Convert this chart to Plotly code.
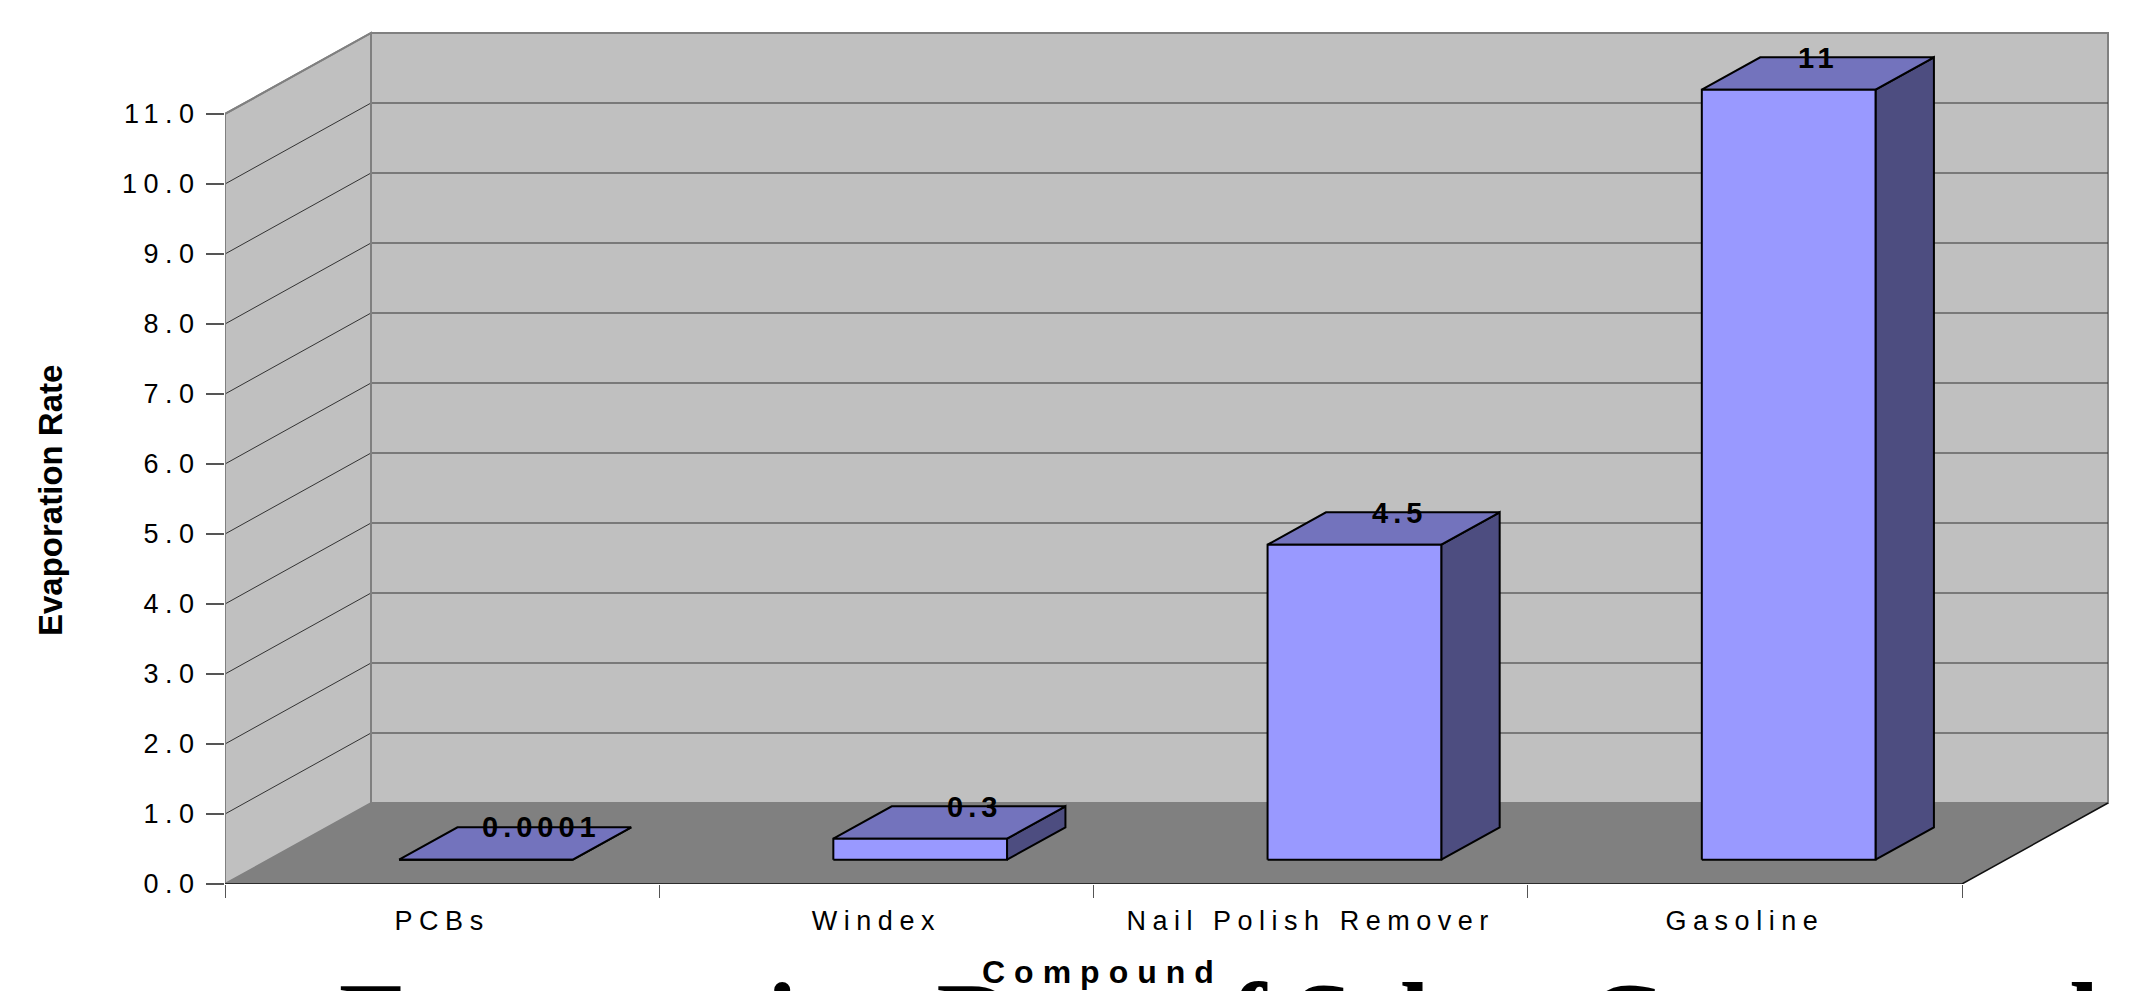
import plotly.graph_objects as go

# ---------------- data ----------------
categories = ["PCBs", "Windex", "Nail Polish Remover", "Gasoline"]
values = [0.0001, 0.3, 4.5, 11]
value_labels = ["0.0001", "0.3", "4.5", "11"]
y_tick_values = [0, 1, 2, 3, 4, 5, 6, 7, 8, 9, 10, 11]
y_tick_labels = ["0.0", "1.0", "2.0", "3.0", "4.0", "5.0", "6.0",
                 "7.0", "8.0", "9.0", "10.0", "11.0"]
x_title = "Compound"
y_title = "Evaporation Rate"
chart_title = "Evaporation Rate of Select Compounds"

# ---------------- layout geometry ----------------
W, H = 2134, 991
ML, MB = 225, 107
plot_w = W - ML
plot_h = H - MB
PX_PER_CAT = 434.25
PX_PER_UNIT = 70.0
x_max = plot_w / PX_PER_CAT
y_max = plot_h / PX_PER_UNIT
DEPTH_X = 146 / PX_PER_CAT
DEPTH_Y = 81 / PX_PER_UNIT
BAR_W = 0.4
D0, D1 = 0.3, 0.7
VMAX = max(y_tick_values)
n = len(categories)

WALL = "#C0C0C0"
FLOOR = "#808080"
EDGE = "#808080"
GRID = "#333333"
FRONT = "#9999FF"
TOP = "#7373BD"
SIDE = "#4D4D80"


def P(x, y, d):
    return x + d * DEPTH_X, y + d * DEPTH_Y


def path(pts, close=True):
    s = "M " + " L ".join(f"{x:.5f},{y:.5f}" for x, y in pts)
    return s + (" Z" if close else "")


def sp(t, ls):
    return f'<span style="letter-spacing:{ls}px">{t}</span>'


shapes = []
# back wall
shapes.append(dict(type="path", xref="x", yref="y", layer="below",
                   path=path([P(0, 0, 1), P(n, 0, 1), P(n, VMAX, 1), P(0, VMAX, 1)]),
                   fillcolor=WALL, line=dict(color=EDGE, width=2)))
# side wall
shapes.append(dict(type="path", xref="x", yref="y", layer="below",
                   path=path([P(0, 0, 0), P(0, VMAX, 0), P(0, VMAX, 1), P(0, 0, 1)]),
                   fillcolor=WALL, line=dict(color=EDGE, width=2)))
# floor
shapes.append(dict(type="path", xref="x", yref="y", layer="below",
                   path=path([P(0, 0, 0), P(n, 0, 0), P(n, 0, 1), P(0, 0, 1)]),
                   fillcolor=FLOOR, line=dict(width=0)))
# gridlines
for v in y_tick_values:
    if v == 0 or v == VMAX:
        continue
    shapes.append(dict(type="path", xref="x", yref="y", layer="below",
                       path=path([P(0, v, 0), P(0, v, 1), P(n, v, 1)], close=False),
                       line=dict(color=GRID, width=1)))
# edges
shapes.append(dict(type="path", xref="x", yref="y", layer="below",
                   path=path([P(0, 0, 0), P(0, VMAX, 0), P(0, VMAX, 1)], close=False),
                   line=dict(color=EDGE, width=2)))
shapes.append(dict(type="path", xref="x", yref="y", layer="below",
                   path=path([P(0, 0, 1), P(0, VMAX, 1)], close=False),
                   line=dict(color=EDGE, width=2)))
shapes.append(dict(type="path", xref="x", yref="y", layer="below",
                   path=path([P(0, 0, 0), P(n, 0, 0), P(n, 0, 1)], close=False),
                   line=dict(color="#111111", width=1.5)))

fig = go.Figure()


def face(pts, color):
    xs = [p[0] for p in pts] + [pts[0][0]]
    ys = [p[1] for p in pts] + [pts[0][1]]
    fig.add_trace(go.Scatter(x=xs, y=ys, mode="lines", fill="toself",
                             fillcolor=color, line=dict(color="black", width=2),
                             hoverinfo="skip", showlegend=False))


annotations = []
for i, v in enumerate(values):
    x0 = i + 0.5 - BAR_W / 2
    x1 = x0 + BAR_W
    face([P(x1, 0, D0), P(x1, 0, D1), P(x1, v, D1), P(x1, v, D0)], SIDE)
    face([P(x0, v, D0), P(x1, v, D0), P(x1, v, D1), P(x0, v, D1)], TOP)
    face([P(x0, 0, D0), P(x1, 0, D0), P(x1, v, D0), P(x0, v, D0)], FRONT)
    cx, cy = P(i + 0.5, v, 0.5)
    annotations.append(dict(x=cx, y=cy, xref="x", yref="y", showarrow=False,
                            text="<b>" + sp(value_labels[i], 5) + "</b>",
                            font=dict(family="Liberation Sans", size=29, color="black"),
                            xanchor="center", yanchor="middle", yshift=16,
                            xshift=26 - 2.3 * v))

# axis titles and chart title
annotations.append(dict(x=(1102 - ML) / plot_w, y=0, xref="paper", yref="paper",
                        yshift=-87.5, showarrow=False,
                        text="<b>" + sp(x_title, 9) + "</b>",
                        font=dict(family="Liberation Sans", size=32, color="black"),
                        xanchor="center", yanchor="middle"))
annotations.append(dict(x=(50 - ML) / plot_w, y=(plot_h - 501) / plot_h,
                        xref="paper", yref="paper", showarrow=False, textangle=-90,
                        text="<b>" + y_title + "</b>",
                        font=dict(family="Liberation Sans", size=33, color="black"),
                        xanchor="center", yanchor="middle"))
annotations.append(dict(x=(337 - ML) / plot_w, y=0, xref="paper", yref="paper",
                        yshift=-76, showarrow=False,
                        text="<b>" + chart_title + "</b>",
                        font=dict(family="Liberation Serif", size=107, color="black"),
                        xanchor="left", yanchor="top"))

fig.update_layout(
    width=W, height=H,
    margin=dict(l=ML, r=0, t=0, b=MB, pad=0),
    paper_bgcolor="white", plot_bgcolor="white",
    shapes=shapes, annotations=annotations, showlegend=False,
    xaxis=dict(range=[0, x_max], showgrid=False, zeroline=False, showline=False,
               tickmode="array", tickvals=[i + 0.5 for i in range(n)],
               ticktext=[sp(c, 6.5) for c in categories], ticks="",
               ticklabelstandoff=18,
               tickfont=dict(family="Liberation Sans", size=27, color="black"),
               minor=dict(tickmode="array", tickvals=list(range(n + 1)),
                          ticks="outside", ticklen=13, tickwidth=1, tickcolor="#555555",
                          showgrid=False),
               fixedrange=True),
    yaxis=dict(range=[0, y_max], showgrid=False, zeroline=False, showline=False,
               tickmode="array", tickvals=y_tick_values,
               ticktext=[sp(t, 6.5) for t in y_tick_labels],
               ticks="outside", ticklen=18, tickwidth=2, tickcolor="#555555",
               tickfont=dict(family="Liberation Sans", size=27, color="black"),
               fixedrange=True),
)

fig.write_html("out.html")
